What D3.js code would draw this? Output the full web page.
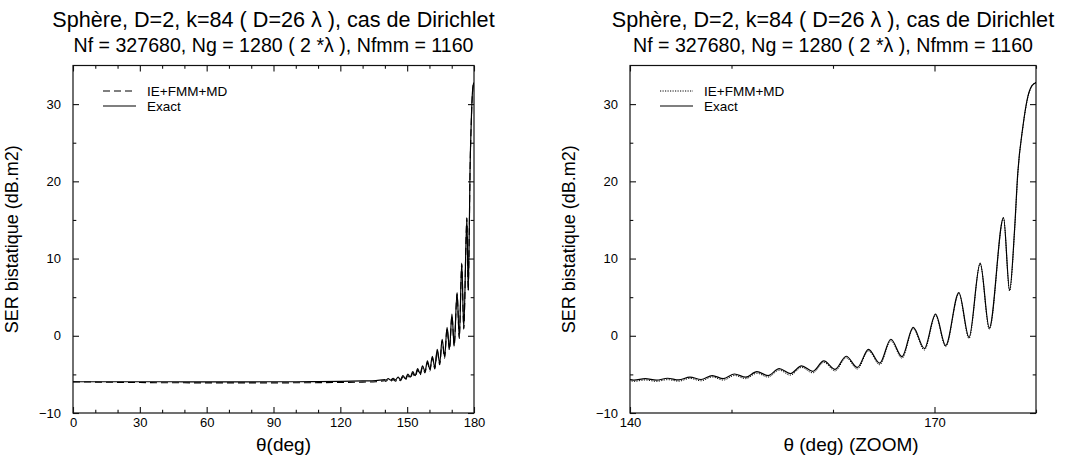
<!DOCTYPE html>
<html>
<head>
<meta charset="utf-8">
<script src="https://cdn.jsdelivr.net/npm/d3@7"></script>
<style>
body { margin: 0; background: #fff; }
svg { display: block; font-family: "Liberation Sans", Arial, sans-serif; }
</style>
</head>
<body>
<svg id="chart" width="1072" height="457"></svg>
<script>
// bistatic angle (deg)
var theta = [0, 10, 20, 30, 40, 50, 60, 70, 80, 90, 100, 110, 120, 130, 136,
	140, 140.4, 141.5, 142.6, 143.7, 144.8, 145.9, 147.0, 148.1, 149.2, 150.3, 151.4,
	152.5, 153.6, 154.7, 155.8, 156.9, 158.0, 159.1, 160.2, 161.3, 162.4, 163.5, 164.6,
	165.7, 166.8, 167.9, 169.0, 170.1, 171.1, 172.4, 173.4, 174.5, 175.4, 176.8,
	177.4, 177.9, 178.2, 178.7, 179.2, 179.6, 180];
// SER (dB.m2), reference solution
var serExact = [-5.95, -5.95, -5.95, -5.95, -5.95, -5.96, -5.96, -5.96, -5.96, -5.95, -5.95, -5.93, -5.9, -5.85, -5.8,
	-5.68, -5.75, -5.55, -5.75, -5.5, -5.72, -5.35, -5.66, -5.15, -5.56, -4.95, -5.36,
	-4.65, -5.15, -4.25, -4.9, -3.9, -4.6, -3.25, -4.35, -2.65, -4.1, -1.75, -3.55,
	-0.45, -2.7, 1.1, -1.65, 2.8, -1.25, 5.6, -0.2, 9.4, 1.0, 15.3,
	5.9, 14.0, 21.0, 27.0, 31.0, 32.4, 32.8];
// SER (dB.m2), IE+FMM+MD
var serIE = [-5.97, -6.0, -6.03, -6.06, -6.08, -6.09, -6.1, -6.1, -6.1, -6.1, -6.09, -6.07, -6.04, -6.0, -5.95,
	-5.83, -5.9, -5.72, -5.9, -5.68, -5.88, -5.52, -5.83, -5.33, -5.74, -5.14, -5.55,
	-4.85, -5.35, -4.45, -5.1, -4.1, -4.8, -3.45, -4.55, -2.85, -4.3, -1.95, -3.75,
	-0.65, -2.9, 0.9, -1.85, 2.6, -1.4, 5.45, -0.35, 9.3, 0.85, 15.2,
	5.8, 13.8, 20.8, 26.9, 30.9, 32.35, 32.8];

var title1 = 'Sphère, D=2, k=84 ( D=26 λ ), cas de Dirichlet';
var title2 = 'Nf = 327680, Ng = 1280 ( 2 *λ  ), Nfmm = 1160';
var yLabel = 'SER bistatique (dB.m2)';
var legendLabels = ['IE+FMM+MD', 'Exact'];

var yDomain = [-10, 35];
var yTicks = [-10, 0, 10, 20, 30];
var yMinor = [-5, 5, 15, 25];
var fullTicks = [0, 30, 60, 90, 120, 150, 180];
var fullMinor = [10, 20, 40, 50, 70, 80, 100, 110, 130, 140, 160, 170];
var zoomTicks = [140, 170];
var zoomMinor = [150, 160, 180];

var panels = [
	{x0: 73, x1: 474, domain: [0, 180], ticks: fullTicks, minor: fullMinor,
	 xLabel: 'θ(deg)', labelShift: 10, dash: '7,4', dashW: 1.1},
	{x0: 630, x1: 1036, domain: [140, 180], ticks: zoomTicks, minor: zoomMinor,
	 xLabel: 'θ (deg) (ZOOM)', labelShift: 18, dash: '1.2,1.3', dashW: 1}
];

var plotTop = 65.5, plotBottom = 413;
var svg = d3.select('#chart');

panels.forEach(function(p, i){
	var x = d3.scaleLinear().domain(p.domain).range([p.x0, p.x1]);
	var y = d3.scaleLinear().domain(yDomain).range([plotBottom, plotTop]);
	var g = svg.append('g');
	var cx = (p.x0 + p.x1) / 2;

	// titles
	g.append('text').attr('x', cx).attr('y', 27).attr('text-anchor', 'middle')
		.style('font-size', '21.6px').text(title1);
	g.append('text').attr('x', cx).attr('y', 52).attr('text-anchor', 'middle')
		.style('font-size', '19.6px').text(title2);

	// axes, ticks pointing inward; labels only bottom and left
	var axes = [
		['axisBottom', x, p.ticks, p.minor, 'translate(0,' + plotBottom + ')', true],
		['axisTop', x, p.ticks, p.minor, 'translate(0,' + plotTop + ')', false],
		['axisLeft', y, yTicks, yMinor, 'translate(' + p.x0 + ',0)', true],
		['axisRight', y, yTicks, yMinor, 'translate(' + p.x1 + ',0)', false]
	];
	axes.forEach(function(a){
		var ax = d3[a[0]](a[1]).tickValues(a[2]).tickSize(-6)
			.tickPadding(a[0] == 'axisLeft' ? 12 : 5);
		if (!a[5]) ax.tickFormat('');
		var m = d3[a[0]](a[1]).tickValues(a[3]).tickSize(-3.3).tickFormat('');
		var ga = g.append('g').attr('transform', a[4]).call(ax);
		var gm = g.append('g').attr('transform', a[4]).call(m);
		[ga, gm].forEach(function(s){
			s.attr('font-size', 13).attr('font-family', null);
			s.select('.domain').remove();
			s.selectAll('line').attr('stroke', '#111').attr('stroke-width', 1.1);
			s.selectAll('text').attr('fill', '#000');
		});
	});

	// plot frame
	g.append('rect').attr('x', p.x0).attr('y', plotTop)
		.attr('width', p.x1 - p.x0).attr('height', plotBottom - plotTop)
		.attr('fill', 'none').attr('stroke', '#111').attr('stroke-width', 1.2);

	// axis labels
	g.append('text').attr('x', cx + p.labelShift).attr('y', 451).attr('text-anchor', 'middle')
		.style('font-size', '19px').text(p.xLabel);
	g.append('text').attr('transform', 'translate(' + (p.x0 - 55) + ',' + ((plotTop + plotBottom) / 2) + ') rotate(-90)')
		.attr('text-anchor', 'middle').style('font-size', '18px').text(yLabel);

	// curves
	var clipId = 'clip' + i;
	svg.append('clipPath').attr('id', clipId).append('rect')
		.attr('x', p.x0).attr('y', plotTop).attr('width', p.x1 - p.x0).attr('height', plotBottom - plotTop);
	var line = d3.line()
		.x(function(d){ return x(d[0]); })
		.y(function(d){ return y(d[1]); })
		.curve(d3.curveMonotoneX);
	var ie = d3.zip(theta, serIE), ex = d3.zip(theta, serExact);
	g.append('path').datum(ie).attr('clip-path', 'url(#' + clipId + ')')
		.attr('d', line).attr('fill', 'none').attr('stroke', '#000')
		.attr('stroke-width', p.dashW).attr('stroke-dasharray', p.dash);
	g.append('path').datum(ex).attr('clip-path', 'url(#' + clipId + ')')
		.attr('d', line).attr('fill', 'none').attr('stroke', '#000').attr('stroke-width', 1.2);

	// legend
	var rows = [91, 106];
	legendLabels.forEach(function(lab, k){
		g.append('line').attr('x1', p.x0 + 30).attr('x2', p.x0 + 63)
			.attr('y1', rows[k]).attr('y2', rows[k]).attr('stroke', '#000')
			.attr('stroke-width', k == 0 ? p.dashW : 1.2)
			.attr('stroke-dasharray', k == 0 ? p.dash : null);
		g.append('text').attr('x', p.x0 + 74).attr('y', rows[k]).attr('dy', '0.35em')
			.style('font-size', '13.5px').text(lab);
	});
});
</script>
</body>
</html>
